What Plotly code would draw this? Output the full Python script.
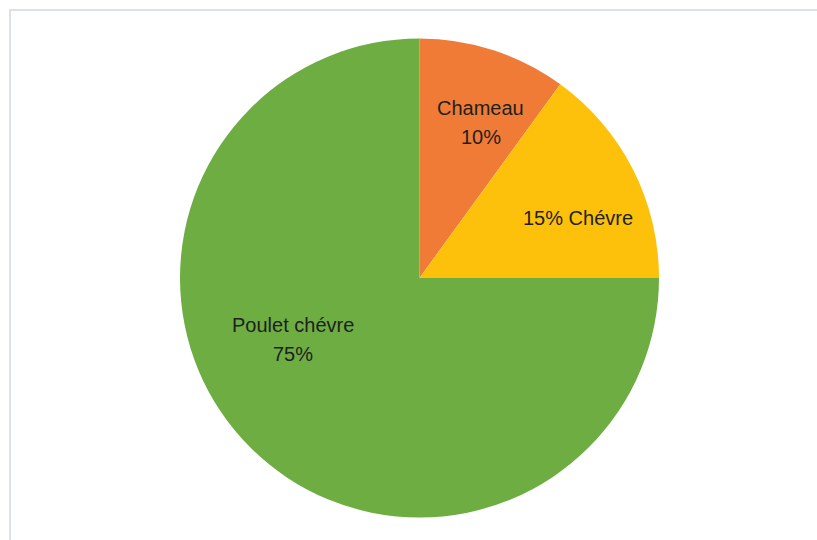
import plotly.graph_objects as go

# Slice data (clockwise from 12 o'clock)
labels = ["Chameau", "Chévre", "Poulet chévre"]
values = [10, 15, 75]
colors = ["#EF7B36", "#FDC10C", "#6DAD42"]

# Label text for each slice, as lines of text
label_lines = [
    [labels[0], f"{values[0]}%"],
    [f"{values[1]}% {labels[1]}"],
    [labels[2], f"{values[2]}%"],
]
# Label anchor points (paper coords) and line spacing in px
label_pos = [(0.5887, 0.773), (0.7069, 0.5963), (0.3592, 0.3713)]
W, H = 817, 540
LINE_GAP = 29
FONT = dict(family="Liberation Sans, Arial, sans-serif", size=20, color="#1F1F1F")

fig = go.Figure(
    go.Pie(
        labels=labels,
        values=values,
        sort=False,
        direction="clockwise",
        rotation=0,
        marker=dict(colors=colors, line=dict(width=0)),
        textinfo="none",
        hoverinfo="label+percent",
        showlegend=False,
        domain=dict(x=[180 / W, 659 / W], y=[22.5 / H, 501.5 / H]),
    )
)

annotations = []
for lines, (x, y) in zip(label_lines, label_pos):
    n = len(lines)
    for i, line in enumerate(lines):
        dy = ((n - 1) / 2 - i) * LINE_GAP / H
        annotations.append(
            dict(
                text=line,
                x=x,
                y=y + dy,
                xref="paper",
                yref="paper",
                xanchor="center",
                yanchor="middle",
                showarrow=False,
                font=FONT,
            )
        )

fig.update_layout(
    width=W,
    height=H,
    margin=dict(l=0, r=0, t=0, b=0),
    paper_bgcolor="white",
    plot_bgcolor="white",
    annotations=annotations,
    shapes=[
        dict(
            type="rect",
            xref="paper",
            yref="paper",
            x0=10 / W,
            x1=1.02,
            y0=-0.02,
            y1=1 - 10 / H,
            line=dict(color="#DCE1E9", width=2),
            fillcolor="rgba(0,0,0,0)",
            layer="below",
        )
    ],
)

fig.write_html("out.html")
